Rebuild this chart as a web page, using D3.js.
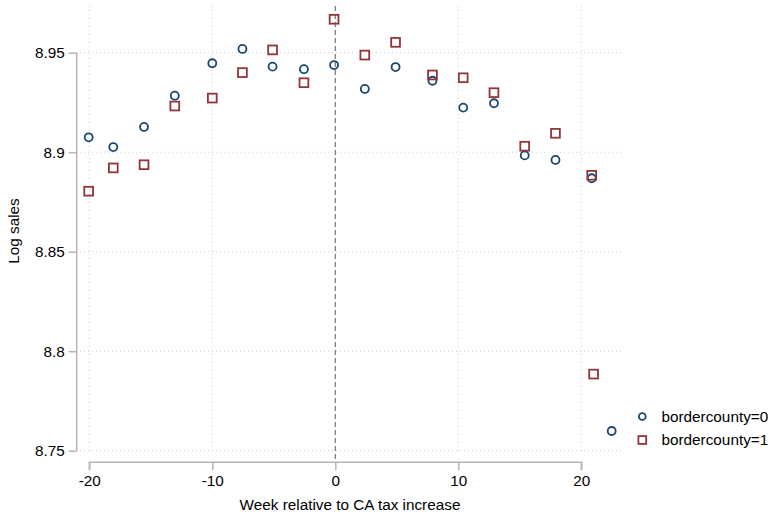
<!DOCTYPE html>
<html>
<head>
<meta charset="utf-8">
<script src="https://cdn.jsdelivr.net/npm/d3@7"></script>
<style>
  html, body { margin: 0; padding: 0; background: #fff; }
  svg { display: block; font-family: "Liberation Sans", Arial, sans-serif; }
</style>
</head>
<body>
<svg id="chart" width="773" height="516"></svg>
<script>
// Weeks relative to the tax change and mean log sales, by border-county status
const weeks0 = [-20.05, -18.05, -15.55, -13.05, -10.0, -7.55, -5.1, -2.55, -0.1, 2.4, 4.9, 7.9, 10.4, 12.9, 15.4, 17.9, 20.85, 22.47];
const sales0 = [8.9075, 8.9026, 8.9127, 8.9284, 8.9447, 8.9519, 8.9430, 8.9417, 8.9438, 8.9318, 8.9428, 8.9359, 8.9224, 8.9246, 8.8984, 8.8961, 8.8869, 8.7599];
const weeks1 = [-20.05, -18.05, -15.55, -13.05, -10.0, -7.55, -5.1, -2.55, -0.1, 2.4, 4.9, 7.9, 10.4, 12.9, 15.4, 17.9, 20.85, 21.0];
const sales1 = [8.8804, 8.8921, 8.8937, 8.9232, 8.9272, 8.9400, 8.9514, 8.9349, 8.9668, 8.9488, 8.9552, 8.9388, 8.9374, 8.9299, 8.9030, 8.9095, 8.8884, 8.7885];

const xTicks = [-20, -10, 0, 10, 20];
const yTicks = [8.75, 8.8, 8.85, 8.9, 8.95];
const seriesNames = ["bordercounty=0", "bordercounty=1"];

const svg = d3.select("#chart");
const fontSize = "15.3px";

const x = d3.scaleLinear().domain([-20, 20]).range([89.3, 581.3]);
const y = d3.scaleLinear().domain([8.75, 8.95]).range([450.7, 52.7]);

const plotLeft = 80, plotRight = 623, plotTop = 6, plotBottom = 452;
const navy = "#1a476f", maroon = "#90353b";
const axisColor = "#b5b5b5", gridColor = "#cfcfcf";

// gridlines
const grid = svg.append("g");
grid.selectAll("line.h").data(yTicks).join("line")
  .attr("x1", plotLeft).attr("x2", plotRight)
  .attr("y1", d => y(d)).attr("y2", d => y(d))
  .attr("stroke", gridColor).attr("stroke-width", 1)
  .attr("stroke-dasharray", "1,3");
grid.selectAll("line.v").data(xTicks).join("line")
  .attr("x1", d => x(d)).attr("x2", d => x(d))
  .attr("y1", plotTop).attr("y2", plotBottom)
  .attr("stroke", gridColor).attr("stroke-width", 1)
  .attr("stroke-dasharray", "1,3");

// reference line at week 0
svg.append("line")
  .attr("x1", x(0)).attr("x2", x(0))
  .attr("y1", plotTop).attr("y2", 462)
  .attr("stroke", "#808080").attr("stroke-width", 1.3)
  .attr("stroke-dasharray", "5,3");

// y axis
const yAxis = svg.append("g")
  .attr("transform", "translate(76.7,0)")
  .call(d3.axisLeft(y).tickValues(yTicks).tickFormat(d3.format("~g")).tickSize(8).tickPadding(4));
// x axis
const xAxis = svg.append("g")
  .attr("transform", "translate(0,462.3)")
  .call(d3.axisBottom(x).tickValues(xTicks).tickFormat(d => d).tickSize(8).tickPadding(5));

[yAxis, xAxis].forEach(ax => {
  ax.select(".domain").attr("stroke", axisColor).attr("stroke-width", 1.5);
  ax.selectAll(".tick line").attr("stroke", axisColor).attr("stroke-width", 1.5);
  ax.selectAll(".tick text").attr("fill", "#000").style("font-size", fontSize)
    .style("font-family", "'Liberation Sans', Arial, sans-serif");
});
// domain paths without outer ticks
yAxis.select(".domain").attr("d", `M0,${y(8.95)}V${y(8.75)}`);
xAxis.select(".domain").attr("d", `M${x(-20)},8V0H${x(20)}V8`);

// markers
const pts0 = weeks0.map((w, i) => ({ w, v: sales0[i] }));
const pts1 = weeks1.map((w, i) => ({ w, v: sales1[i] }));

svg.append("g").selectAll("circle").data(pts0).join("circle")
  .attr("cx", d => x(d.w)).attr("cy", d => y(d.v))
  .attr("r", 4)
  .attr("fill", "none").attr("stroke", navy).attr("stroke-width", 1.8);

const sq = 8.8;
svg.append("g").selectAll("rect").data(pts1).join("rect")
  .attr("x", d => x(d.w) - sq / 2).attr("y", d => y(d.v) - sq / 2)
  .attr("width", sq).attr("height", sq)
  .attr("fill", "none").attr("stroke", maroon).attr("stroke-width", 1.8);

// axis titles
svg.append("text")
  .attr("x", 350).attr("y", 510)
  .attr("text-anchor", "middle")
  .style("font-size", fontSize).attr("fill", "#000")
  .text("Week relative to CA tax increase");
svg.append("text")
  .attr("transform", "translate(18.5,231) rotate(-90)")
  .attr("text-anchor", "middle")
  .style("font-size", fontSize).attr("fill", "#000")
  .text("Log sales");

// legend
const legend = svg.append("g");
legend.append("circle")
  .attr("cx", 642.3).attr("cy", 416.5).attr("r", 3.4)
  .attr("fill", "none").attr("stroke", navy).attr("stroke-width", 1.8);
legend.append("rect")
  .attr("x", 642.3 - 3.9).attr("y", 440 - 3.9).attr("width", 7.8).attr("height", 7.8)
  .attr("fill", "none").attr("stroke", maroon).attr("stroke-width", 1.8);
legend.selectAll("text").data(seriesNames).join("text")
  .attr("x", 661.5).attr("y", (d, i) => 422 + i * 23.3)
  .style("font-size", fontSize).attr("fill", "#000")
  .text(d => d);
</script>
</body>
</html>
